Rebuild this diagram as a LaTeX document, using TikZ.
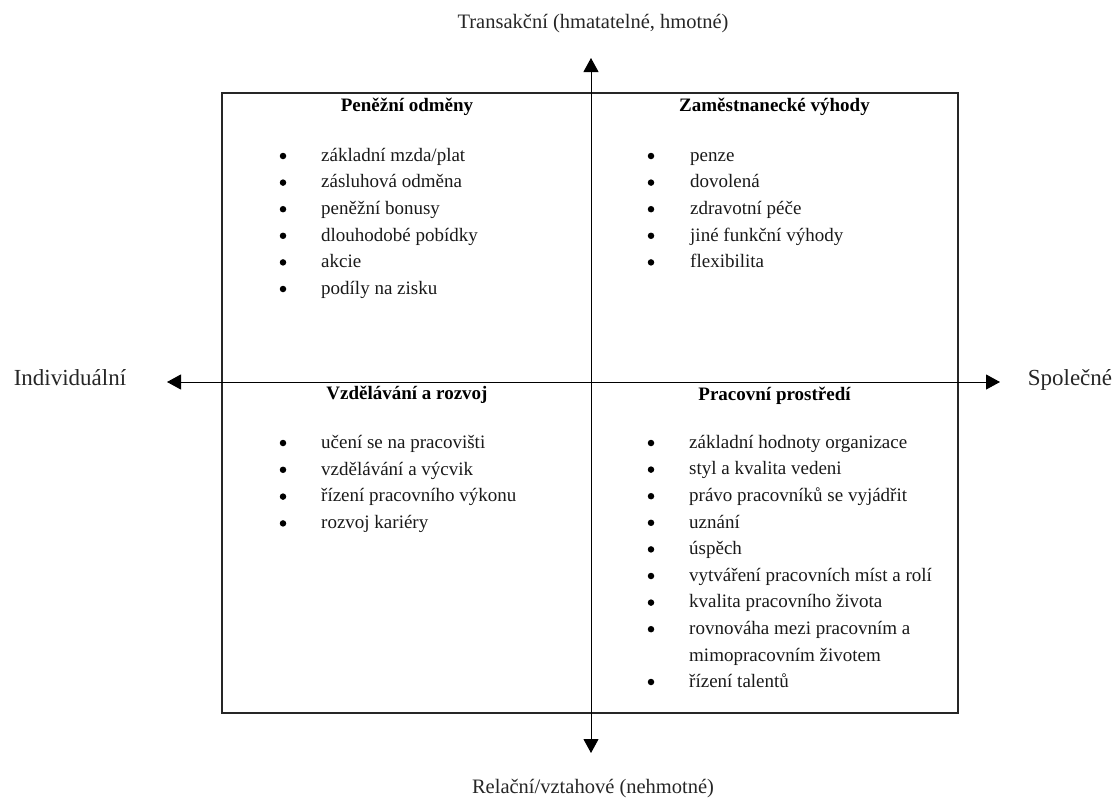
\documentclass[tikz,border=0pt]{standalone}
\usepackage{fontspec}
\setmainfont{Liberation Serif}
\usetikzlibrary{arrows.meta}
\tikzset{
  frame/.style={draw=black!85, line width=1.4pt},
  axis/.style={draw=black, line width=1pt, {Triangle[width=15pt,length=14pt]}-{Triangle[width=15pt,length=14pt]}},
  qtitle/.style={anchor=mid, inner sep=0pt, font=\fontsize{19}{23}\selectfont\bfseries},
  item/.style={anchor=mid west, inner sep=0pt, font=\fontsize{19}{23}\selectfont, text=black!90, yshift=-3pt},
  bul/.style={circle, fill=black, inner sep=0pt, minimum size=6.5pt},
  sidelab/.style={anchor=mid, inner sep=0pt, font=\fontsize{23}{27}\selectfont, text=black!85},
  toplab/.style={anchor=mid, inner sep=0pt, font=\fontsize{20.5}{24}\selectfont, text=black!85}
}
\begin{document}
\begin{tikzpicture}[x=1pt,y=-1pt]
\useasboundingbox (0,0) rectangle (1120,801);
% frame
\draw[frame] (222,93) rectangle (958,713);
% axis end points
\coordinate (L) at (167,382);
\coordinate (R) at (1000,382);
\coordinate (T) at (591,58);
\coordinate (B) at (591,753);
\draw[axis] (L) -- (R);
\draw[axis] (T) -- (B);
% axis labels
\node[toplab] (ltop) at (593,26) {Transakční (hmatatelné, hmotné)};
\node[toplab] (lbot) at (593,791) {Relační/vztahové (nehmotné)};
\node[sidelab] (lleft) at (70,383) {Individuální};
\node[sidelab] (lright) at (1070,383) {Společné};
% quadrant titles
\node[qtitle] (t1) at (407,109) {Peněžní odměny};
\node[qtitle] (t2) at (774.5,109) {Zaměstnanecké výhody};
\node[qtitle] (t3) at (407,397) {Vzdělávání a rozvoj};
\node[qtitle] (t4) at (774.5,398) {Pracovní prostředí};
% quadrant 1
\foreach \t [count=\i] in {základní mzda/plat, zásluhová odměna, peněžní bonusy, dlouhodobé pobídky, akcie, podíly na zisku}{
  \node[bul] (qa-b\i) at (283,{156+26.6*(\i-1)}) {};
  \node[item] (qa-\i) at (321,{156+26.6*(\i-1)}) {\t};
}
% quadrant 2
\foreach \t [count=\i] in {penze, dovolená, zdravotní péče, jiné funkční výhody, flexibilita}{
  \node[bul] (qb-b\i) at (651,{156+26.6*(\i-1)}) {};
  \node[item] (qb-\i) at (690,{156+26.6*(\i-1)}) {\t};
}
% quadrant 3
\foreach \t [count=\i] in {učení se na pracovišti, vzdělávání a výcvik, řízení pracovního výkonu, rozvoj kariéry}{
  \node[bul] (qc-b\i) at (283,{443+26.8*(\i-1)}) {};
  \node[item] (qc-\i) at (321,{443+26.8*(\i-1)}) {\t};
}
% quadrant 4
\foreach \t [count=\i] in {základní hodnoty organizace, styl a kvalita vedeni, právo pracovníků se vyjádřit, uznání, úspěch, vytváření pracovních míst a rolí, kvalita pracovního života, rovnováha mezi pracovním a}{
  \node[bul] (qd-b\i) at (651,{443+26.6*(\i-1)}) {};
  \node[item] (qd-\i) at (689,{443+26.6*(\i-1)}) {\t};
}
\node[item] (qd-8b) at (689,656) {mimopracovním životem};
\node[bul] (qd-b9) at (651,682) {};
\node[item] (qd-9) at (689,682) {řízení talentů};
\end{tikzpicture}
\end{document}
